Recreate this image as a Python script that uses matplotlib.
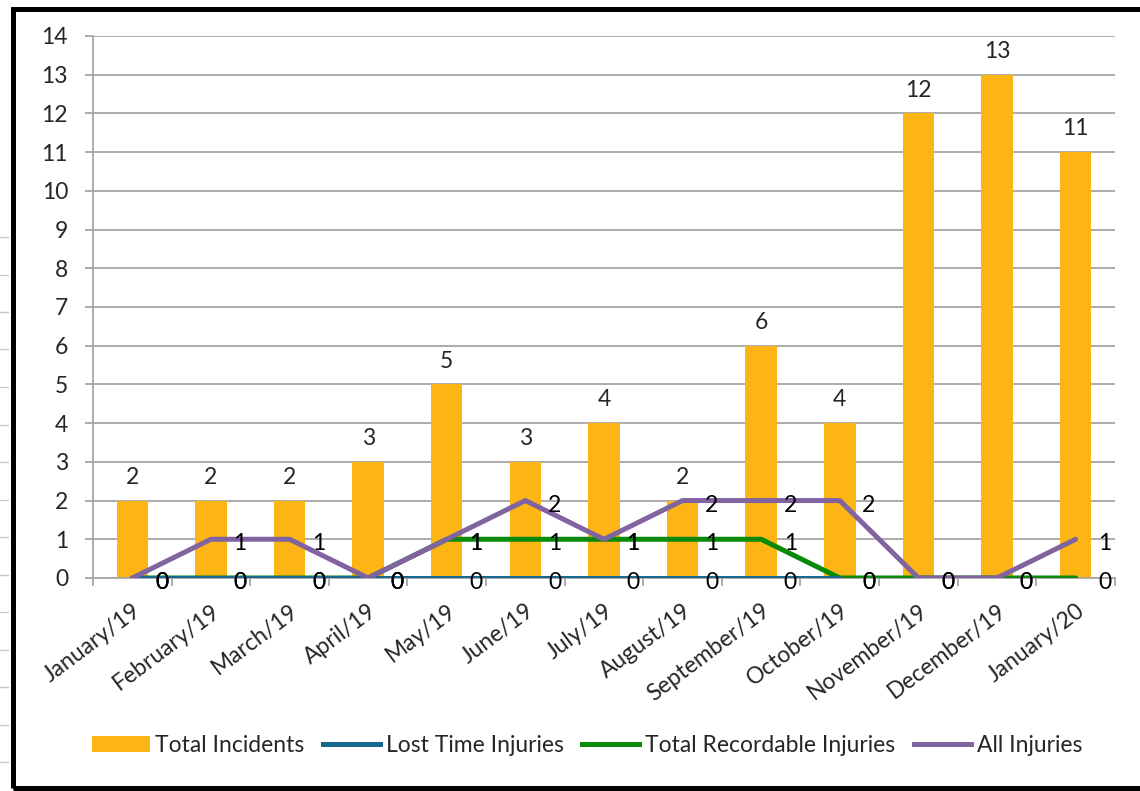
import numpy as np
import matplotlib.pyplot as plt
from matplotlib.patches import Rectangle
from matplotlib.lines import Line2D

# monthly safety figures
months = ["January/19", "February/19", "March/19", "April/19", "May/19", "June/19",
          "July/19", "August/19", "September/19", "October/19", "November/19",
          "December/19", "January/20"]
total_incidents = [2, 2, 2, 3, 5, 3, 4, 2, 6, 4, 12, 13, 11]
lost_time = [0, 0, 0, 0, 0, 0, 0, 0, 0, 0, None, None, None]
total_recordable = [0, 0, 0, 0, 1, 1, 1, 1, 1, 0, 0, 0, 0]
all_injuries = [0, 1, 1, 0, 1, 2, 1, 2, 2, 2, 0, 0, 1]

c_bar = "#FDB515"
c_lost = "#17688F"
c_rec = "#0A8A0A"
c_all = "#8064A2"
grid_c = "#A6A6A6"
txt_c = "#262626"

plt.rcParams['font.family'] = ['Lato', 'DejaVu Sans']
fs = 16.5
lw = 3.6

fig = plt.figure(figsize=(11.4, 7.91), dpi=100)
ax = fig.add_axes([0.0816, 0.2693, 0.8964, 0.6852])

x = np.arange(len(months))
lt = np.array([np.nan if v is None else v for v in lost_time], dtype=float)

ax.bar(x, total_incidents, width=0.4, color=c_bar, zorder=2, label="Total Incidents")
ax.plot(x, total_recordable, color=c_rec, lw=lw, zorder=3, solid_capstyle='round',
        label="Total Recordable Injuries")
ax.plot(x, lt, color=c_lost, lw=lw, zorder=4, solid_capstyle='round',
        label="Lost Time Injuries")
ax.plot(x, all_injuries, color=c_all, lw=lw, zorder=5, solid_capstyle='round',
        label="All Injuries")

# value labels
for xi, v in zip(x, total_incidents):
    ax.annotate(str(v), (xi, v), xytext=(0, 12), textcoords='offset points',
                ha='center', va='baseline', fontsize=fs, color=txt_c, zorder=6)
for series in (lost_time, total_recordable, all_injuries):
    for xi, v in zip(x, series):
        if v is None:
            continue
        ax.annotate(str(v), (xi, v), xytext=(21, -8), textcoords='offset points',
                    ha='center', va='baseline', fontsize=fs, color='black', zorder=6)

ax.set_xlim(-0.5, len(months) - 0.5)
ax.set_ylim(0, 14)
ax.set_yticks(range(0, 15))
ax.yaxis.grid(True, color=grid_c, lw=1.3, zorder=0)
ax.set_axisbelow(True)
for s in ('top', 'right'):
    ax.spines[s].set_visible(False)
for s in ('left', 'bottom'):
    ax.spines[s].set_color(grid_c)
    ax.spines[s].set_linewidth(1.3)
ax.tick_params(axis='y', length=6, width=1.3, color=grid_c, labelsize=fs,
               labelcolor=txt_c, pad=12)

# category ticks between months, labels at centres
ax.set_xticks(np.arange(-0.5, len(months)), minor=False)
ax.set_xticklabels([])
ax.tick_params(axis='x', which='major', length=6, width=1.3, color=grid_c)
ax.set_xticks(x, minor=True)
ax.set_xticklabels(months, minor=True, rotation=37, ha='right', va='top',
                   rotation_mode='anchor', fontsize=fs, color=txt_c)
ax.tick_params(axis='x', which='minor', length=0, pad=16)

handles = [ax.patches[0],
           Line2D([], [], color=c_lost, lw=lw),
           Line2D([], [], color=c_rec, lw=lw),
           Line2D([], [], color=c_all, lw=lw)]
labels = ["Total Incidents", "Lost Time Injuries", "Total Recordable Injuries", "All Injuries"]
leg = fig.legend(handles, labels, loc='center', bbox_to_anchor=(0.515, 0.058), ncol=4,
                 frameon=False, fontsize=fs, handlelength=2.5, handletextpad=0.25,
                 columnspacing=0.8, labelcolor=txt_c)

# outer chart frame
fig.patches.append(Rectangle((0.011, 0.0038), 1.2, 0.985, transform=fig.transFigure,
                             fill=False, ec='black', lw=3.6, zorder=10))
# sheet row lines peeking out at the left
for yp in np.arange(237, 780, 37.5):
    fig.add_artist(Line2D([0, 8 / 1140], [1 - yp / 791] * 2, transform=fig.transFigure,
                          color='#C8C8C8', lw=1))

fig.savefig("out.png", dpi=100)
